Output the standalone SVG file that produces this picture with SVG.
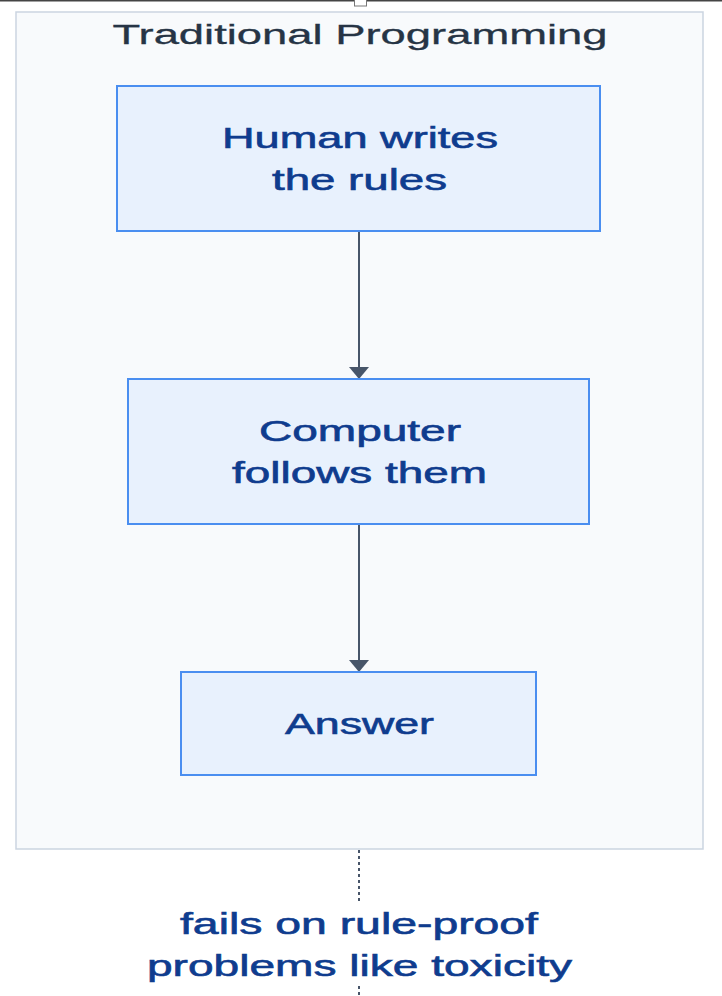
<svg xmlns="http://www.w3.org/2000/svg" width="722" height="996" viewBox="0 0 722 996">
<defs>
<style>
.frame{fill:#f8fafc;stroke:#cbd5e1;stroke-width:1.5}
.node{fill:#e8f1fd;stroke:#4a8ef0;stroke-width:2}
.nt{font-family:"Liberation Sans",Arial,sans-serif;font-size:29px;fill:#0f3c8e;stroke:#0f3c8e;stroke-width:0.6;text-anchor:middle}
.title{font-family:"Liberation Sans",Arial,sans-serif;font-size:28px;fill:#263445;stroke:#263445;stroke-width:0.3;text-anchor:middle}
.edge{stroke:#475569;stroke-width:2;fill:none}
.dot{stroke:#475569;stroke-width:2;fill:none;stroke-dasharray:3 3}
.head{fill:#475569}
</style>
</defs>
<rect width="722" height="996" fill="#ffffff"/>
<line x1="0" y1="0.5" x2="722" y2="0.5" stroke="#444" stroke-width="2"/>
<rect x="354.5" y="-1" width="12" height="7" fill="#fff" stroke="#777" stroke-width="1"/>
<g id="cluster">
<rect class="frame" x="16" y="12" width="687" height="837"/>
<text class="title" x="360" y="44" textLength="495" lengthAdjust="spacingAndGlyphs">Traditional Programming</text>
</g>
<g id="connectors">
<line class="edge" x1="359" y1="231" x2="359" y2="368"/>
<polygon class="head" points="349,367 369,367 359,379"/>
<line class="edge" x1="359" y1="524" x2="359" y2="661"/>
<polygon class="head" points="349,660 369,660 359,672"/>
<line class="dot" x1="359" y1="850" x2="359" y2="902"/>
<line class="dot" x1="359" y1="986" x2="359" y2="996"/>
</g>
<g id="n1">
<rect class="node" x="117" y="86" width="483" height="145"/>
<text class="nt" x="360" y="148" textLength="276" lengthAdjust="spacingAndGlyphs">Human writes</text>
<text class="nt" x="359.5" y="190" textLength="175" lengthAdjust="spacingAndGlyphs">the rules</text>
</g>
<g id="n2">
<rect class="node" x="128" y="379" width="461" height="145"/>
<text class="nt" x="360" y="441" textLength="202" lengthAdjust="spacingAndGlyphs">Computer</text>
<text class="nt" x="359.5" y="483" textLength="255" lengthAdjust="spacingAndGlyphs">follows them</text>
</g>
<g id="n3">
<rect class="node" x="181" y="672" width="355" height="103"/>
<text class="nt" x="359.5" y="734" textLength="149" lengthAdjust="spacingAndGlyphs">Answer</text>
</g>
<g id="note">
<text class="nt" x="359" y="934" textLength="358" lengthAdjust="spacingAndGlyphs">fails on rule-proof</text>
<text class="nt" x="359.5" y="976" textLength="425" lengthAdjust="spacingAndGlyphs">problems like toxicity</text>
</g>
</svg>
